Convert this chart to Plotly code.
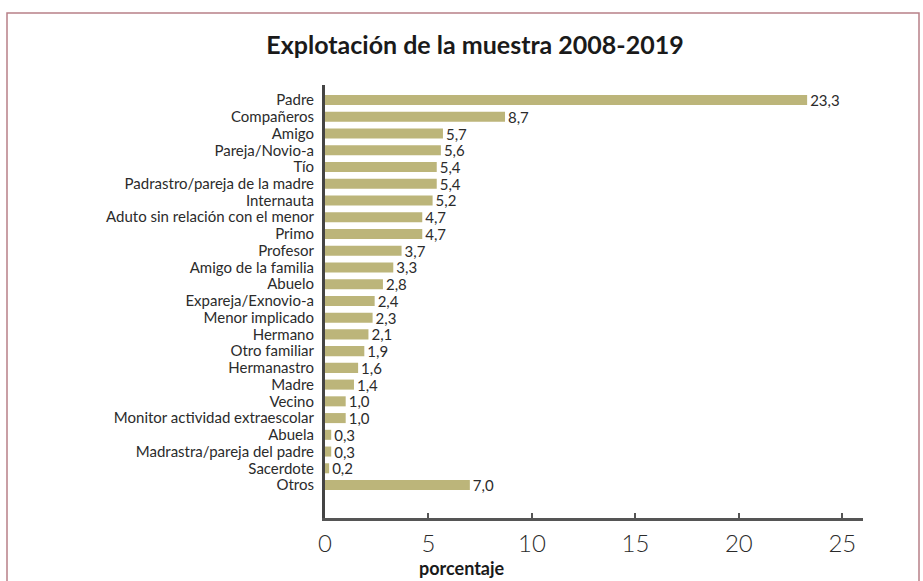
import plotly.graph_objects as go

categories = [
    "Padre", "Compañeros", "Amigo", "Pareja/Novio-a", "Tío",
    "Padrastro/pareja de la madre", "Internauta", "Aduto sin relación con el menor",
    "Primo", "Profesor", "Amigo de la familia", "Abuelo", "Expareja/Exnovio-a",
    "Menor implicado", "Hermano", "Otro familiar", "Hermanastro", "Madre", "Vecino",
    "Monitor actividad extraescolar", "Abuela", "Madrastra/pareja del padre",
    "Sacerdote", "Otros",
]
values = [23.3, 8.7, 5.7, 5.6, 5.4, 5.4, 5.2, 4.7, 4.7, 3.7, 3.3, 2.8, 2.4,
          2.3, 2.1, 1.9, 1.6, 1.4, 1.0, 1.0, 0.3, 0.3, 0.2, 7.0]
x_ticks = [0, 5, 10, 15, 20, 25]

W, H = 923, 581
ML, MR, MT, MB = 325, 60, 85, 63
FONT = "Lato, Open Sans, sans-serif"
TXT = "#2b2b2b"

def px_x(p):
    return (p - ML) / (W - ML - MR)

def px_y(p):
    return 1 - (p - MT) / (H - MT - MB)

fig = go.Figure(go.Bar(
    x=values, y=categories, orientation="h",
    marker=dict(color="#bcb57a", line=dict(width=0)),
    width=0.6,
    text=values, texttemplate="%{x:.1f}", textposition="outside",
    constraintext="none",
    textfont=dict(family=FONT, size=15, color=TXT),
    cliponaxis=False,
))

fig.update_layout(
    width=W, height=H,
    margin=dict(l=ML, r=MR, t=MT, b=MB, autoexpand=False),
    paper_bgcolor="white", plot_bgcolor="white",
    separators=",.",
    showlegend=False,
    title=dict(text="<b>Explotación de la muestra 2008-2019</b>",
               x=475 / W, xanchor="center", y=1 - 45 / H, yanchor="middle",
               yref="container", xref="container",
               font=dict(family=FONT, size=25, color="#1a1a1a")),
    xaxis=dict(range=[0, 26], tickvals=x_ticks, ticktext=[str(t) for t in x_ticks],
               showgrid=False, zeroline=False,
               showline=True, linecolor="#555", linewidth=2.5,
               ticks="inside", ticklen=5, tickwidth=2, tickcolor="#555",
               ticklabelstandoff=2,
               tickfont=dict(family=FONT, size=24, weight=300, color=TXT)),
    yaxis=dict(categoryorder="array", categoryarray=categories,
               tickmode="array", tickvals=categories,
               range=[24.97, -0.9],
               showgrid=False, zeroline=False,
               showline=True, linecolor="#444", linewidth=3,
               ticks="", ticklabelstandoff=5,
               tickfont=dict(family=FONT, size=15, color=TXT)),
    annotations=[dict(text="<b>porcentaje</b>", xref="paper", yref="paper",
                      x=px_x(462), y=px_y(568), xanchor="center", yanchor="middle",
                      showarrow=False,
                      font=dict(family=FONT, size=18, color="#1a1a1a"))],
    shapes=[dict(type="rect", xref="paper", yref="paper",
                 x0=px_x(7), x1=px_x(919), y0=px_y(600), y1=px_y(13),
                 line=dict(color="#b88088", width=1.5), layer="below")],
)

fig.write_html("out.html")
